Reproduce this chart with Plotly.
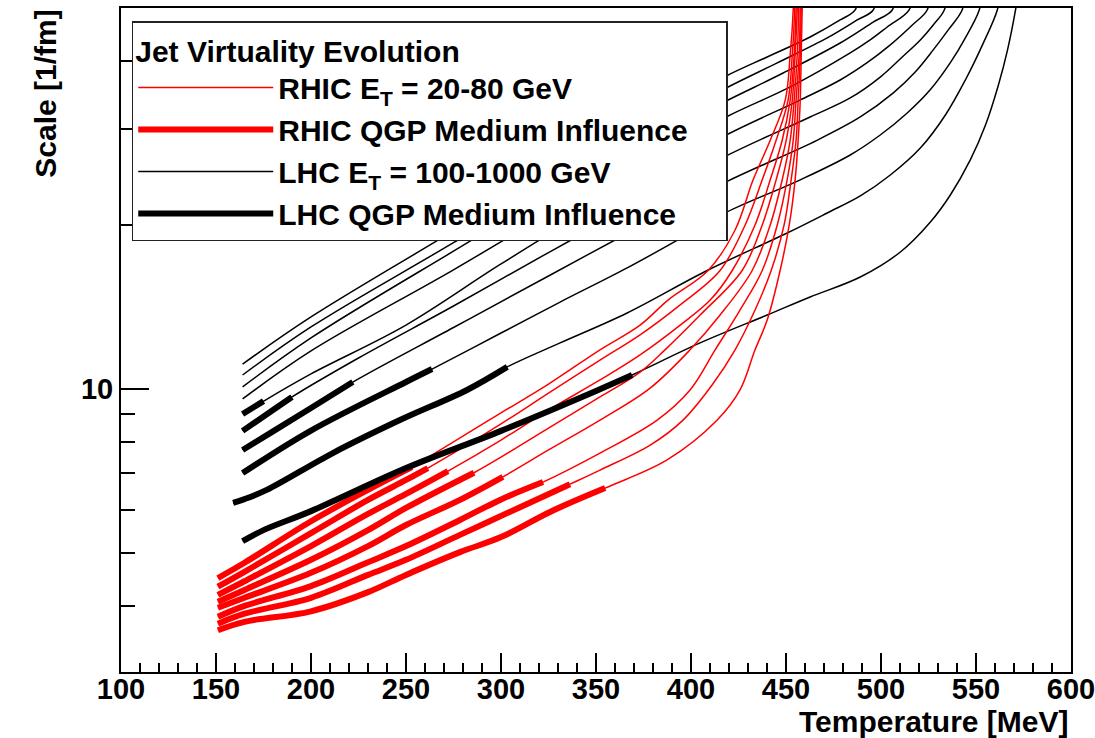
import plotly.graph_objects as go

# ---------------- data (Temperature [MeV], Scale [1/fm]) ----------------
# LHC jets, E_T = 100-1000 GeV (10 curves, top to bottom at the left)
lhc_T = [
    [164, 200, 275, 350, 418.5, 440.1, 462.7, 478.5, 486.4, 488],
    [164, 200, 275, 350, 418.5, 445.4, 471.7, 487.5, 495.9, 497.5],
    [164, 200, 275, 350, 418.5, 448.5, 478.5, 495.9, 505.9, 507.5],
    [164, 200, 275, 350, 418.5, 452.2, 483.8, 494.3, 503.3, 514.8, 516.5],
    [164, 175, 200, 250, 300, 350, 418.5, 457.4, 478.5, 492.7, 504.9, 516.5, 524.3, 525.9],
    [164, 180, 190, 225, 275, 325, 375, 418.5, 462.7, 483.8, 499.6, 511.2, 520.7, 527.5, 533.3, 534.9],
    [164, 180, 200, 222, 275, 325, 366.9, 418.5, 466.3, 489.1, 506.5, 518, 527.5, 535.4, 542.7, 544.3],
    [164, 200, 250, 263.7, 300, 331.1, 366.4, 399.5, 419, 457.5, 483.8, 499.6, 513.8, 525.9, 536.5, 544.4, 551.7, 553.3],
    [159, 165, 176.7, 211.5, 246.8, 282.1, 303.3, 331.1, 366.4, 408.5, 450.6, 471.7, 489.1, 504.9, 520.7, 533.9, 544.4, 553.4, 561.2, 562.8],
    [164, 175, 200, 250, 300, 350, 369, 404.8, 440.1, 462.7, 489.1, 510.2, 526, 536.5, 547, 555, 561.8, 566.6, 570.8, 572.4],
]
lhc_S = [
    [11.11, 13.56, 19.5, 28.04, 37.53, 40.67, 44.25, 47.55, 49.6, 53.9],
    [10.61, 13.0, 18.56, 26.65, 35.67, 39.66, 44.07, 47.55, 49.6, 53.9],
    [10.09, 12.41, 17.9, 25.55, 33.77, 38.0, 43.14, 47.13, 49.6, 53.9],
    [9.59, 11.75, 16.55, 23.58, 31.56, 35.83, 41.36, 43.7, 46.16, 49.6, 53.9],
    [9.0, 9.5, 10.66, 13.1, 16.96, 21.65, 29.25, 33.9, 36.9, 39.7, 42.8, 46.55, 49.6, 53.9],
    [8.38, 9.15, 9.67, 11.4, 14.2, 17.8, 22.18, 26.77, 31.56, 34.2, 37.36, 40.67, 43.7, 46.55, 49.6, 53.9],
    [7.73, 8.36, 9.23, 10.3, 12.97, 16.12, 19.33, 23.99, 28.6, 31.56, 34.94, 38.16, 41.9, 45.6, 49.6, 53.9],
    [7.01, 8.39, 10.3, 10.88, 12.67, 14.44, 16.68, 19.33, 21.13, 24.2, 26.88, 29.25, 32.1, 35.4, 39.7, 44.1, 49.6, 53.9],
    [6.18, 6.28, 6.53, 7.63, 8.77, 9.96, 10.98, 12.15, 13.79, 16.5, 19.33, 21.04, 22.61, 24.7, 27.68, 31.83, 36.9, 42.8, 49.6, 53.9],
    [5.26, 5.51, 5.97, 7.16, 8.38, 9.92, 10.61, 12.15, 13.67, 14.75, 16.05, 17.84, 20.25, 22.7, 26.32, 30.5, 36.13, 41.9, 49.6, 53.9],
]
# temperature up to which the QGP medium influences each LHC curve
lhc_medium_end = [164, 164, 164, 164, 175, 190, 222, 263.7, 303.3, 369]

# RHIC jets, E_T = 20-80 GeV (8 curves, top to bottom at the left)
rhic_T = [
    [151, 165, 200, 230, 253.1, 275, 300, 325, 352.1, 373.2, 387.9, 409, 423.2, 432.7, 441.7, 449.6, 452.2, 453.8, 454.1],
    [151, 165, 200, 230, 250, 261.5, 300, 325, 352.1, 373.2, 394.3, 415.3, 428.5, 437.5, 444.8, 451.1, 453.3, 454.6, 454.9],
    [151, 165, 200, 230, 250, 272.1, 300, 325, 352.1, 373.2, 394.3, 410.1, 421.7, 433.7, 441.7, 448, 452.2, 454.3, 455.3, 455.6],
    [151, 165, 200, 230, 250, 285.8, 300, 325, 352.1, 373.2, 386.3, 404.8, 426.9, 437.5, 444.8, 450.1, 453.3, 454.8, 455.9, 456.2],
    [151, 165, 200, 230, 250, 278.4, 301, 325, 352.1, 378.5, 399.5, 415.3, 432.2, 441.7, 448, 452.2, 454.3, 455.9, 456.7, 457.0],
    [151, 165, 200, 230, 250, 278.4, 299.5, 322.1, 352.1, 382.2, 399.5, 412.7, 425.8, 437.5, 445.4, 450.6, 453.8, 455.3, 456.9, 457.5, 457.8],
    [151, 165, 200, 230, 250, 278.4, 310, 336.3, 352.1, 378.5, 395.8, 411.1, 423.2, 433.7, 442.2, 449, 452.7, 455.3, 456.4, 457.5, 458.0, 458.3],
    [151, 165, 200, 230, 250, 278.4, 300, 325.8, 354.8, 387.4, 413.8, 425.8, 433.7, 440.1, 446.9, 451.7, 454.8, 456.4, 457.5, 458.0, 458.5, 458.8],
]
rhic_S = [
    [4.50, 4.80, 5.72, 6.53, 7.19, 8.0, 9.04, 10.21, 11.8, 13.1, 14.56, 16.5, 19.58, 24.2, 28.6, 33.9, 41.0, 49.6, 56],
    [4.34, 4.62, 5.44, 6.26, 6.81, 7.16, 8.63, 9.83, 11.3, 12.57, 14.27, 16.5, 20.0, 24.2, 28.6, 33.9, 41.0, 49.6, 56],
    [4.19, 4.44, 5.15, 5.90, 6.42, 7.07, 8.06, 9.15, 10.39, 11.55, 13.1, 14.56, 16.5, 20.0, 24.2, 28.6, 33.9, 41.0, 49.6, 56],
    [4.07, 4.28, 4.86, 5.51, 6.05, 7.02, 7.50, 8.48, 9.67, 10.74, 11.8, 13.67, 16.5, 20.0, 24.2, 28.6, 33.9, 41.0, 49.6, 56],
    [3.97, 4.14, 4.60, 5.15, 5.63, 6.26, 6.90, 7.73, 8.77, 10.04, 11.8, 13.67, 16.5, 20.0, 24.2, 28.6, 33.9, 41.0, 49.6, 56],
    [3.82, 4.00, 4.35, 4.81, 5.15, 5.75, 6.26, 6.75, 7.63, 8.77, 9.96, 11.8, 13.96, 16.5, 20.0, 24.2, 28.6, 33.9, 41.0, 49.6, 56],
    [3.71, 3.87, 4.14, 4.56, 4.86, 5.40, 6.07, 6.69, 7.10, 7.89, 8.77, 10.17, 11.8, 13.96, 16.5, 20.0, 24.2, 28.6, 33.9, 41.0, 49.6, 56],
    [3.61, 3.74, 3.91, 4.24, 4.56, 5.02, 5.35, 5.95, 6.58, 7.41, 8.77, 9.96, 11.8, 13.38, 16.5, 20.0, 24.2, 28.6, 33.9, 41.0, 49.6, 56],
]
rhic_medium_end = [253.1, 261.5, 272.1, 285.8, 301, 322.1, 336.3, 354.8]

x_ticks = [100, 150, 200, 250, 300, 350, 400, 450, 500, 550, 600]
y_major = [10]
y_minor = [4, 5, 6, 7, 8, 9, 20, 30, 40]

legend_title = "Jet Virtuality Evolution"
NBSP = "\u00a0"
names = {
    "rhic_thin": "RHIC E<sub>T</sub> = 20-80 GeV",
    "rhic_thick": "RHIC QGP Medium Influence" + NBSP * 4,
    "lhc_thin": "LHC E<sub>T</sub> = 100-1000 GeV",
    "lhc_thick": "LHC QGP Medium Influence",
}

# ---------------- figure ----------------
FONT = "Liberation Sans"
RED = "#ff0000"
BLACK = "#000000"
THIN = 1.5
THICK = 6

fig = go.Figure()


def thick_part(ts, ss, tend):
    xs = [t for t in ts if t <= tend + 1e-9]
    ys = ss[:len(xs)]
    return xs, ys


def add_group(Ts, Ss, color, width, key, rank, ends=None):
    first = True
    for i, (ts, ss) in enumerate(zip(Ts, Ss)):
        if ends is not None:
            ts, ss = thick_part(ts, ss, ends[i])
            if len(ts) < 2:
                continue
        fig.add_trace(go.Scatter(
            x=ts, y=ss, mode="lines",
            line=dict(color=color, width=width, shape="spline", smoothing=1.0),
            name=names[key], legendgroup=key, showlegend=first,
            legendrank=rank, hoverinfo="skip",
        ))
        first = False


add_group(lhc_T, lhc_S, BLACK, THIN, "lhc_thin", 3)
add_group(rhic_T, rhic_S, RED, THIN, "rhic_thin", 1)
add_group(rhic_T, rhic_S, RED, THICK, "rhic_thick", 2, rhic_medium_end)
add_group(lhc_T, lhc_S, BLACK, THICK, "lhc_thick", 4, lhc_medium_end)

fig.update_layout(
    width=1095, height=738,
    margin=dict(l=121, r=24, t=8, b=66, autoexpand=False),
    paper_bgcolor="white", plot_bgcolor="white",
    font=dict(family=FONT, color="black", size=29, weight="bold"),
    showlegend=True,
    legend=dict(
        x=0.0113, y=0.9804, xanchor="left", yanchor="top",
        bgcolor="white", bordercolor="#222222", borderwidth=1.5,
        font=dict(family=FONT, size=30, color="black", weight="bold"),
        title=dict(text=legend_title, font=dict(family=FONT, size=30, color="black", weight="bold")),
        itemwidth=135, tracegroupgap=0, traceorder="normal",
    ),
    xaxis=dict(
        range=[100, 600], tickmode="array", tickvals=x_ticks,
        ticks="inside", ticklen=19, tickwidth=1.5, tickcolor="black",
        showline=True, linewidth=2, linecolor="black", mirror=True,
        showgrid=False, zeroline=False, automargin=False,
        ticklabeloverflow="allow", ticklabelstandoff=-10,
        tickfont=dict(family=FONT, size=29, color="black", weight="bold"),
        minor=dict(dtick=10, tick0=100, ticks="inside", ticklen=9.5,
                   tickwidth=1.5, tickcolor="black", showgrid=False),
    ),
    yaxis=dict(
        type="log", range=[0.4808, 1.6991],
        tickmode="array", tickvals=y_major, ticktext=[str(v) for v in y_major],
        ticks="inside", ticklen=28, tickwidth=1.5, tickcolor="black",
        showline=True, linewidth=2, linecolor="black", mirror=True,
        showgrid=False, zeroline=False, automargin=False,
        tickfont=dict(family=FONT, size=29, color="black", weight="bold"),
        minor=dict(tickmode="array", tickvals=y_minor, ticks="inside",
                   ticklen=14, tickwidth=1.5, tickcolor="black", showgrid=False),
    ),
    annotations=[
        dict(text="Temperature [MeV]", xref="paper", yref="paper",
             x=1.0, y=-0.0738, xanchor="right", yanchor="middle",
             showarrow=False, font=dict(family=FONT, size=30, color="black", weight="bold")),
        dict(text="Scale [1/fm]", xref="paper", yref="paper",
             x=-0.0803, y=1.0, xanchor="center", yanchor="top", textangle=-90,
             showarrow=False, font=dict(family=FONT, size=30, color="black", weight="bold")),
    ],
)

fig.write_html("out.html")
